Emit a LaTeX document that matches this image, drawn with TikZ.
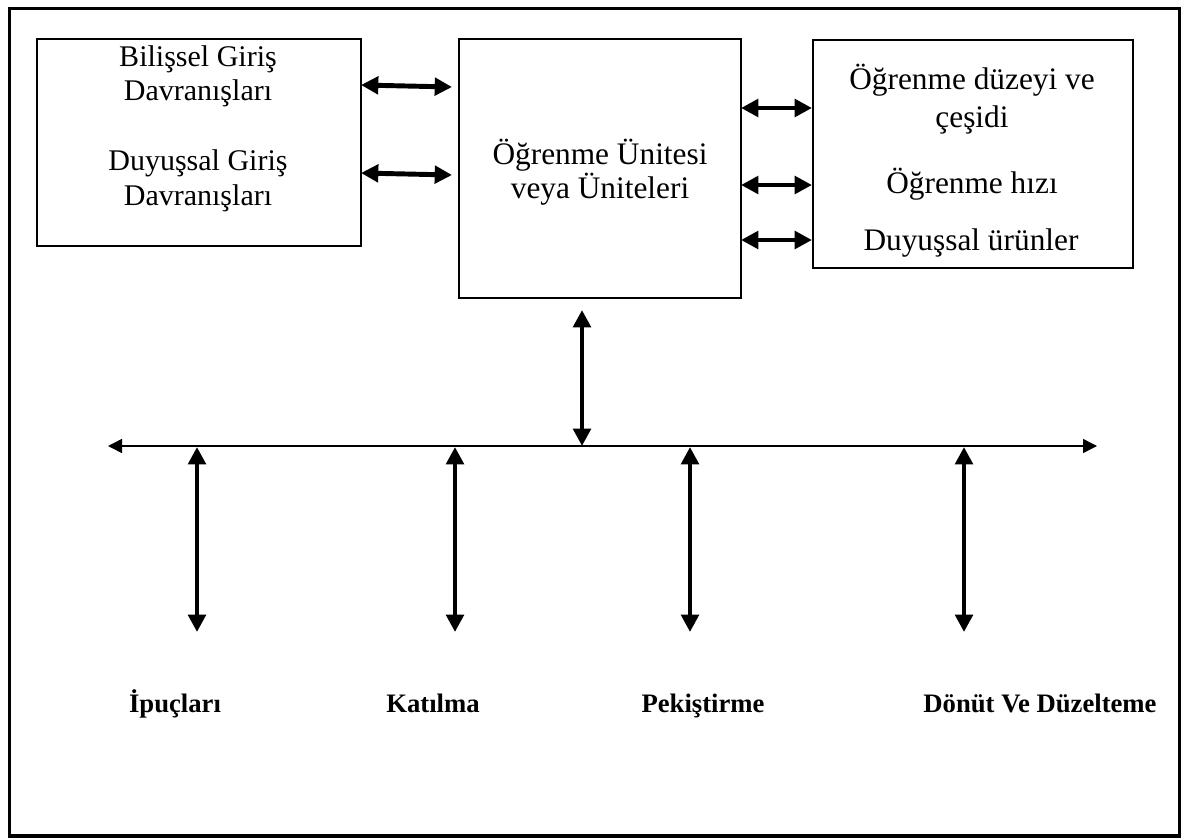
\documentclass[tikz,border=0pt]{standalone}
\usepackage{fontspec}
\setmainfont{Liberation Serif}
\usetikzlibrary{arrows.meta}
\begin{document}
\begin{tikzpicture}[x=0.75pt,y=-0.75pt,
  box/.style={draw,line width=1.2pt,inner sep=0pt},
  txt/.style={font=\fontsize{23.5}{27}\selectfont,inner sep=0pt,anchor=base},
  ltxt/.style={font=\fontsize{22.5}{26}\selectfont,inner sep=0pt,anchor=base},
  lbl/.style={font=\fontsize{20}{24}\selectfont\bfseries,inner sep=0pt,anchor=base},
  bigarrow/.style={line width=3.7pt,{Triangle[length=13pt,width=13pt]}-{Triangle[length=13pt,width=13pt]}},
  thinline/.style={line width=1.1pt,{Triangle[length=10.5pt,width=10.5pt]}-{Triangle[length=10.5pt,width=10.5pt]}}]
\useasboundingbox (0,0) rectangle (1184,839);
\draw[line width=2.3pt] (9.5,8.5) rectangle (1179.5,836);
% boxes
\node[box,minimum width=243pt,minimum height=155.25pt] (lbox) at (199,142.5) {};
\node[box,minimum width=211.5pt,minimum height=194.25pt] (mbox) at (600,168.5) {};
\node[box,minimum width=240pt,minimum height=171pt] (rbox) at (973,154) {};
% texts (baselines)
\node[ltxt] (l1) at (198,66) {Bilişsel Giriş};
\node[ltxt] (l2) at (198,100) {Davranışları};
\node[ltxt] (l3) at (198,170) {Duyuşsal Giriş};
\node[ltxt] (l4) at (198,205) {Davranışları};
\node[txt] (m1) at (600,164) {Öğrenme Ünitesi};
\node[txt] (m2) at (600,198) {veya Üniteleri};
\node[txt] (r1) at (972,89) {Öğrenme düzeyi ve};
\node[txt] (r2) at (972,127) {çeşidi};
\node[txt] (r3) at (972,193) {Öğrenme hızı};
\node[txt] (r4) at (971,250) {Duyuşsal ürünler};
% coordinates
\coordinate (a1s) at (361,85);  \coordinate (a1e) at (452,87);
\coordinate (a2s) at (361,173); \coordinate (a2e) at (452,175);
\coordinate (b1s) at (741,108); \coordinate (b1e) at (812,108);
\coordinate (b2s) at (741,185); \coordinate (b2e) at (812,185);
\coordinate (b3s) at (741,240); \coordinate (b3e) at (812,240);
\coordinate (ctop) at (582,310); \coordinate (cbot) at (582,446);
\coordinate (hl) at (108,446); \coordinate (hr) at (1097,446);
\draw[bigarrow] (a1s) -- (a1e);
\draw[bigarrow] (a2s) -- (a2e);
\draw[bigarrow] (b1s) -- (b1e);
\draw[bigarrow] (b2s) -- (b2e);
\draw[bigarrow] (b3s) -- (b3e);
\draw[bigarrow] (ctop) -- (cbot);
\draw[thinline] (hl) -- (hr);
% bottom labels
\node[lbl] (k1) at (175,712) {İpuçları};
\node[lbl] (k2) at (433,712) {Katılma};
\node[lbl] (k3) at (703,712) {Pekiştirme};
\node[lbl] (k4) at (1040,712) {Dönüt Ve Düzelteme};
\foreach \x/\n in {197/1,455/2,690/3,964/4}{
  \coordinate (d\n t) at (\x,447);
  \coordinate (d\n b) at (\x,632);
  \draw[bigarrow] (d\n t) -- (d\n b);
}
\end{tikzpicture}
\end{document}
